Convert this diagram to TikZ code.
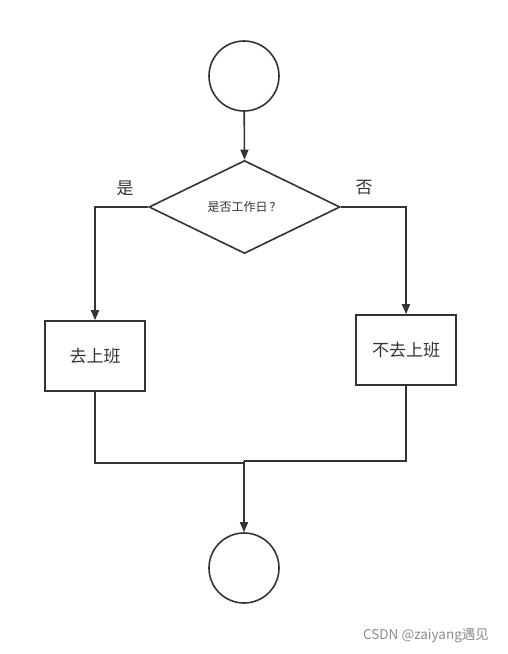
\documentclass[tikz,border=0pt]{standalone}
\usepackage{fontspec}
\setmainfont{Noto Sans CJK SC}
\usetikzlibrary{shapes.geometric,arrows.meta}
\definecolor{ln}{HTML}{333333}
\tikzset{
  every node/.style={text=ln},
  term/.style={circle,draw=ln,line width=1.6pt,minimum size=70pt,inner sep=0pt},
  proc/.style={rectangle,draw=ln,line width=1.6pt,minimum width=100pt,minimum height=70pt,inner sep=0pt,font=\fontsize{17pt}{19pt}\selectfont},
  dec/.style={diamond,draw=ln,line width=1.6pt,aspect=2.05,minimum width=191pt,minimum height=93pt,inner sep=0pt,font=\fontsize{12pt}{14pt}\selectfont},
  conn/.style={draw=ln,line width=1.6pt},
  arr/.style={conn,-{Triangle[length=10pt,width=8pt]}},
  lbl/.style={font=\fontsize{17pt}{19pt}\selectfont}
}
\begin{document}
\begin{tikzpicture}[x=1pt,y=-1pt]
\useasboundingbox[fill=white] (0,0) rectangle (507,654);
\node[term] (start) at (244,76) {};
\node[dec] (d) at (244.5,207) {是否工作日\,？};
\node[proc] (go) at (95,356) {去上班};
\node[proc] (nogo) at (406,350) {不去上班};
\node[term] (end) at (244,568) {};
\node[lbl] (yes) at (125,188) {是};
\node[lbl] (no) at (364,188) {否};
\coordinate (jl) at (95,463);
\coordinate (jr) at (406,461);
\coordinate (j) at (244,461);
\coordinate (jlm) at (244,463);
\draw[arr] (start) -- (d.north);
\draw[arr] (d.west) -| (go.north);
\draw[arr] (d.east) -| (nogo.north);
\draw[conn] (go.south) -- (jl) -- (jlm);
\draw[conn] (nogo.south) -- (jr) -- (j);
\draw[arr] (j) -- (end.north);
\node[font=\fontsize{13.5pt}{15pt}\selectfont,text=black!45] (wm) at (426,636) {CSDN @zaiyang遇见};
\end{tikzpicture}
\end{document}
